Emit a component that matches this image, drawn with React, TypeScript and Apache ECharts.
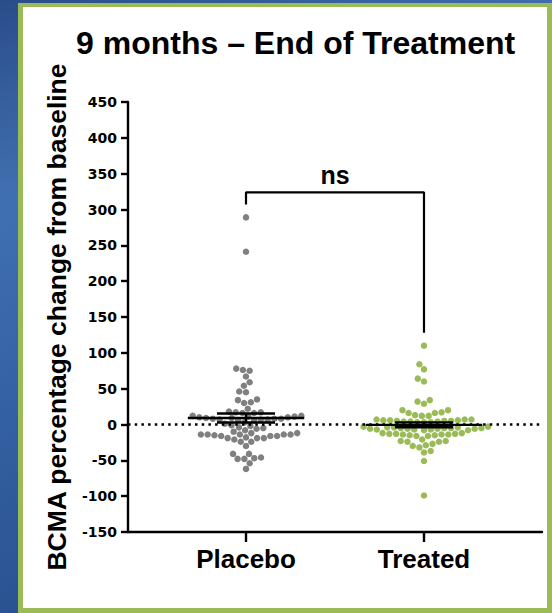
import React, { useEffect, useRef } from "react";
import * as echarts from "echarts";

// BCMA percentage change from baseline, one value per subject
const placeboValues = [
  289, 241,
  78, 76, 75, 67, 59, 54, 46, 45,
  35, 34, 31, 30, 22,
  18, 17, 17, 16, 16,
  12, 12, 11, 11, 10, 10, 9, 9, 8, 8, 8, 7, 7, 7, 6, 6,
  3, 1, -1, -2, -4, -5, -6, -8,
  -10, -12, -12, -14, -14, -14, -14, -14, -15, -16, -16, -16, -18, -19, -19, -19,
  -21, -24, -24, -30,
  -41, -41, -46, -47, -48, -48, -54, -62,
];

const treatedValues = [
  110, 84, 77, 64, 60,
  34, 32, 29,
  20, 20, 17, 16, 16, 13, 12, 12,
  7, 7, 7, 6, 6, 6, 5, 5, 5, 4, 4, 4, 3, 3, 3,
  -3, -3, -4, -4, -4, -5, -5, -5, -5, -6, -6, -6, -6, -7, -7, -7, -8, -8,
  -12, -12, -13, -13, -13, -14, -14, -14, -15, -15, -16, -16,
  -21, -23, -23, -24, -24, -27, -29, -30, -32,
  -37, -39, -51, -99,
];

const groupNames = ["Placebo", "Treated"];
const groupColors = ["#808080", "#9bbb59"];
const significanceLabel = "ns";

const Y_MIN = -150;
const Y_MAX = 450;
const Y_STEP = 50;
const X_MIN = 0.337;
const X_MAX = 2.663;

const W = 552;
const H = 613;
const GRID = { left: 128, top: 102, right: 10, bottom: 81 };
const DOT = 6.5;
const DOT_GAP = 6.8;

const FONT_SANS = "'Liberation Sans', Arial, Helvetica, sans-serif";
const FONT_TICKS = "'DejaVu Sans', Verdana, sans-serif";

// Beeswarm: place each dot at the horizontal offset closest to the centre
// that does not collide with the dots already placed (pixel space).
function swarmOffsets(values: number[], pxPerUnit: number, gap: number): number[] {
  const order = values.map((_, i) => i).sort((a, b) => values[a] - values[b]);
  const placed: { x: number; y: number }[] = [];
  const out = new Array(values.length).fill(0);
  let balance = 0;
  for (const i of order) {
    const y = values[i] * pxPerUnit;
    const near = placed.filter((p) => Math.abs(p.y - y) < gap);
    const cands = [0];
    for (const p of near) {
      const dx = Math.sqrt(gap * gap - (p.y - y) * (p.y - y));
      cands.push(p.x + dx, p.x - dx);
    }
    cands.sort((a, b) => {
      const d = Math.abs(a) - Math.abs(b);
      if (Math.abs(d) > 1e-6) return d;
      return balance > 0 ? a - b : b - a;
    });
    let chosen = 0;
    for (const c of cands) {
      const ok = near.every(
        (p) => (c - p.x) * (c - p.x) + (p.y - y) * (p.y - y) >= gap * gap - 1e-6
      );
      if (ok) {
        chosen = c;
        break;
      }
    }
    placed.push({ x: chosen, y });
    balance += chosen;
    out[i] = chosen;
  }
  return out;
}

function meanSem(values: number[]): [number, number] {
  const n = values.length;
  const mean = values.reduce((s, v) => s + v, 0) / n;
  const sd = Math.sqrt(values.reduce((s, v) => s + (v - mean) * (v - mean), 0) / (n - 1));
  return [mean, sd / Math.sqrt(n)];
}

export default function App() {
  const ref = useRef<HTMLDivElement>(null);

  useEffect(() => {
    document.body.style.margin = "0";
    if (!ref.current) return;
    const chart = echarts.init(ref.current, undefined, { renderer: "svg", width: W, height: H });

    const plotW = W - GRID.left - GRID.right;
    const plotH = H - GRID.top - GRID.bottom;
    const pxPerX = plotW / (X_MAX - X_MIN);
    const pxPerY = plotH / (Y_MAX - Y_MIN);

    const groups = [placeboValues, treatedValues];
    const scatterSeries = groups.map((vals, gi) => {
      const offs = swarmOffsets(vals, pxPerY, DOT_GAP);
      return {
        type: "scatter",
        name: groupNames[gi],
        symbol: "circle",
        symbolSize: DOT,
        itemStyle: { color: groupColors[gi], opacity: 1 },
        z: 2,
        data: vals.map((v, i) => [gi + 1 + offs[i] / pxPerX, v]),
      };
    });

    const stats = groups.map((vals, gi) => {
      const [m, s] = meanSem(vals);
      return [gi + 1, m, s];
    });

    // significance bracket, placed above each group's highest value
    const maxes = groups.map((vals) => Math.max(...vals));
    const legPad = 18;
    const barY = Math.max(...maxes) + legPad + 17;
    const bracketData = [
      [1, maxes[0] + legPad],
      [1, barY],
      [2, barY],
      [2, maxes[1] + legPad],
    ];

    const option: any = {
      animation: false,
      title: {
        text: "9 months – End of Treatment",
        left: 76,
        top: 27,
        padding: 0,
        textStyle: { fontFamily: FONT_SANS, fontSize: 32, fontWeight: "bold", color: "#000" },
      },
      graphic: [
        {
          type: "rect",
          z: -10,
          silent: true,
          shape: { x: 0, y: 0, width: W, height: H },
          style: {
            fill: new echarts.graphic.LinearGradient(0, 0, 0.3, 1, [
              { offset: 0, color: "#2a4d89" },
              { offset: 0.3, color: "#4170b0" },
              { offset: 0.55, color: "#3664a5" },
              { offset: 1, color: "#284f8e" },
            ]),
          },
        },
        {
          type: "rect",
          z: -9,
          silent: true,
          shape: { x: 18, y: 3, width: W - 18, height: H - 3 },
          style: { fill: "#9bbb59" },
        },
        {
          type: "rect",
          z: -8,
          silent: true,
          shape: { x: 23, y: 7, width: W - 23 - 5, height: H - 7 - 5 },
          style: { fill: "#ffffff" },
        },
      ],
      grid: { ...GRID, containLabel: false },
      xAxis: {
        type: "value",
        min: X_MIN,
        max: X_MAX,
        splitLine: { show: false },
        axisLine: { show: true, onZero: false, lineStyle: { color: "#000", width: 2.4 } },
        axisTick: {
          show: true,
          length: 10,
          inside: false,
          customValues: [1, 2],
          lineStyle: { color: "#000", width: 2.4 },
        },
        axisLabel: {
          show: true,
          customValues: [1, 2],
          margin: 14,
          formatter: (v: number) => groupNames[Math.round(v) - 1] ?? "",
          fontFamily: FONT_SANS,
          fontSize: 26,
          fontWeight: "bold",
          color: "#000",
        },
      },
      yAxis: {
        type: "value",
        min: Y_MIN,
        max: Y_MAX,
        interval: Y_STEP,
        name: "BCMA percentage change from baseline",
        nameLocation: "middle",
        nameRotate: 90,
        nameGap: 58,
        nameTextStyle: { fontFamily: FONT_SANS, fontSize: 26.5, fontWeight: "bold", color: "#000" },
        splitLine: { show: false },
        axisLine: { show: true, onZero: false, lineStyle: { color: "#000", width: 2.4 } },
        axisTick: { show: true, length: 7, lineStyle: { color: "#000", width: 2.4 } },
        axisLabel: {
          margin: 11,
          fontFamily: FONT_TICKS,
          fontSize: 14,
          fontWeight: "bold",
          color: "#000",
        },
      },
      series: [
        ...scatterSeries,
        {
          type: "line",
          name: "zero",
          data: [],
          z: 3,
          markLine: {
            silent: true,
            symbol: "none",
            label: { show: false },
            lineStyle: { color: "#000", width: 2.5, type: [2.5, 4.2] },
            data: [{ yAxis: 0 }],
          },
        },
        {
          type: "custom",
          name: "mean ± SEM",
          z: 4,
          data: stats,
          renderItem: (_params: any, api: any) => {
            const x = api.value(0);
            const m = api.value(1);
            const s = api.value(2);
            const style = { stroke: "#000", lineWidth: 2.4 };
            const seg = (a: number[], b: number[]) => {
              const p1 = api.coord(a);
              const p2 = api.coord(b);
              return {
                type: "line",
                shape: { x1: p1[0], y1: p1[1], x2: p2[0], y2: p2[1] },
                style,
              };
            };
            return {
              type: "group",
              children: [
                seg([x - 0.327, m], [x + 0.327, m]),
                seg([x - 0.163, m + s], [x + 0.163, m + s]),
                seg([x - 0.163, m - s], [x + 0.163, m - s]),
                seg([x, m - s], [x, m + s]),
              ],
            };
          },
        },
        {
          type: "line",
          name: "bracket",
          data: bracketData,
          symbol: "none",
          z: 4,
          lineStyle: { color: "#000", width: 2.2 },
        },
        {
          type: "custom",
          name: "significance",
          z: 5,
          data: [[1.5, barY]],
          renderItem: (_params: any, api: any) => {
            const p = api.coord([api.value(0), api.value(1)]);
            return {
              type: "text",
              x: p[0],
              y: p[1] - 5,
              style: {
                text: significanceLabel,
                fill: "#000",
                opacity: 1,
                font: `bold 25px ${FONT_SANS}`,
                align: "center",
                verticalAlign: "bottom",
              },
            };
          },
        },
      ],
    };

    chart.setOption(option);
    return () => chart.dispose();
  }, []);

  return <div ref={ref} style={{ width: W, height: H }} />;
}
